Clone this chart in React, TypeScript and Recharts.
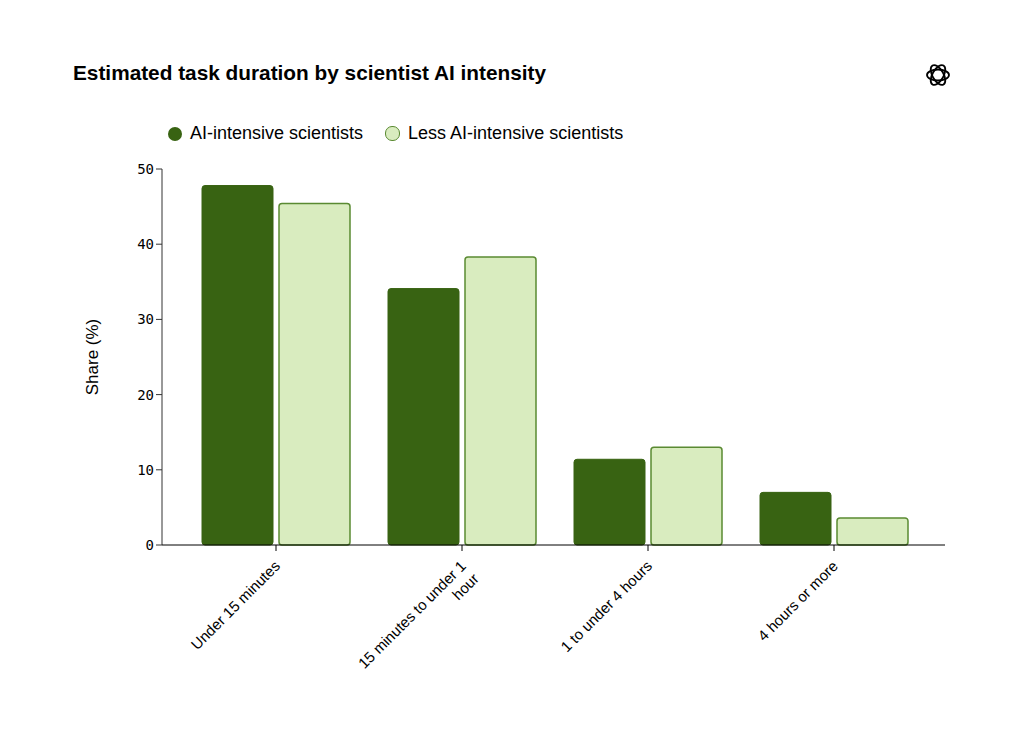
import React from "react";
import { BarChart, Bar, XAxis, YAxis } from "recharts";

const categories = ["Under 15 minutes", "15 minutes to under 1\nhour", "1 to under 4 hours", "4 hours or more"];
const aiIntensive = [47.8, 34.1, 11.4, 7.0];
const lessIntensive = [45.4, 38.3, 13.0, 3.6];
const yTicks = [0, 10, 20, 30, 40, 50];

const data = categories.map((c, i) => ({ name: c, ai: aiIntensive[i], less: lessIntensive[i] }));

const sans = "'Liberation Sans', Arial, sans-serif";

const XTick = (props: any) => {
  const { x, y, payload } = props;
  const lines = String(payload.value).split("\n");
  return (
    <g transform={`translate(${x + 5},${y + 14}) rotate(-45)`}>
      {lines.map((l, i) => (
        <text key={i} x={0} y={i * 18} textAnchor="end" fontSize={15} fill="#000" fontFamily={sans}>
          {l}
        </text>
      ))}
    </g>
  );
};

export default function App() {
  return (
    <div style={{ position: "absolute", left: 0, top: 0, width: 1024, height: 736, background: "#fff", fontFamily: sans }}>
      <div style={{ position: "absolute", left: 73, top: 61, fontSize: 20.8, fontWeight: "bold", color: "#000" }}>
        Estimated task duration by scientist AI intensity
      </div>
      <svg style={{ position: "absolute", left: 924, top: 61 }} width={28} height={28} viewBox="0 0 28 28">
        {[0, 60, 120].map((a) => (
          <ellipse key={a} cx={14} cy={14} rx={11} ry={5.5} fill="none" stroke="#000" strokeWidth={1.8} transform={`rotate(${a} 14 14)`} />
        ))}
      </svg>
      <div style={{ position: "absolute", left: 168, top: 123, display: "flex", alignItems: "center", fontSize: 18, color: "#000" }}>
        <span style={{ width: 14, height: 14, borderRadius: 7, background: "#386312", display: "inline-block", marginRight: 8 }} />
        <span style={{ marginRight: 22 }}>AI-intensive scientists</span>
        <span style={{ width: 13, height: 13, borderRadius: 7, background: "#d9ecbf", border: "1px solid #5a8a32", display: "inline-block", marginRight: 8 }} />
        <span>Less AI-intensive scientists</span>
      </div>
      <div style={{ position: "absolute", left: 0, top: 0 }}>
        <BarChart width={1024} height={736} data={data} margin={{ top: 169, right: 79, bottom: 41, left: 122 }} barGap={6} barSize={71}>
          <YAxis
            domain={[0, 50]}
            ticks={yTicks}
            width={40}
            axisLine={{ stroke: "#333" }}
            tickLine={{ stroke: "#333" }}
            tickSize={6}
            tick={{ fill: "#000", fontSize: 14, fontFamily: "'DejaVu Sans Mono', monospace" }}
            label={{ value: "Share (%)", angle: -90, position: "insideLeft", offset: -30, fill: "#000", fontSize: 17, fontFamily: sans, style: { textAnchor: "middle" } }}
          />
          <XAxis
            dataKey="name"
            interval={0}
            height={150}
            padding={{ left: 21, right: 18 }}
            axisLine={{ stroke: "#000" }}
            tickLine={{ stroke: "#000" }}
            tickSize={6}
            tick={<XTick />}
          />
          <Bar dataKey="ai" fill="#386312" stroke="#386312" radius={[3, 3, 3, 3]} isAnimationActive={false} />
          <Bar dataKey="less" fill="#d9ecbf" stroke="#5a8a32" strokeWidth={1.5} radius={[3, 3, 3, 3]} isAnimationActive={false} />
        </BarChart>
      </div>
    </div>
  );
}
